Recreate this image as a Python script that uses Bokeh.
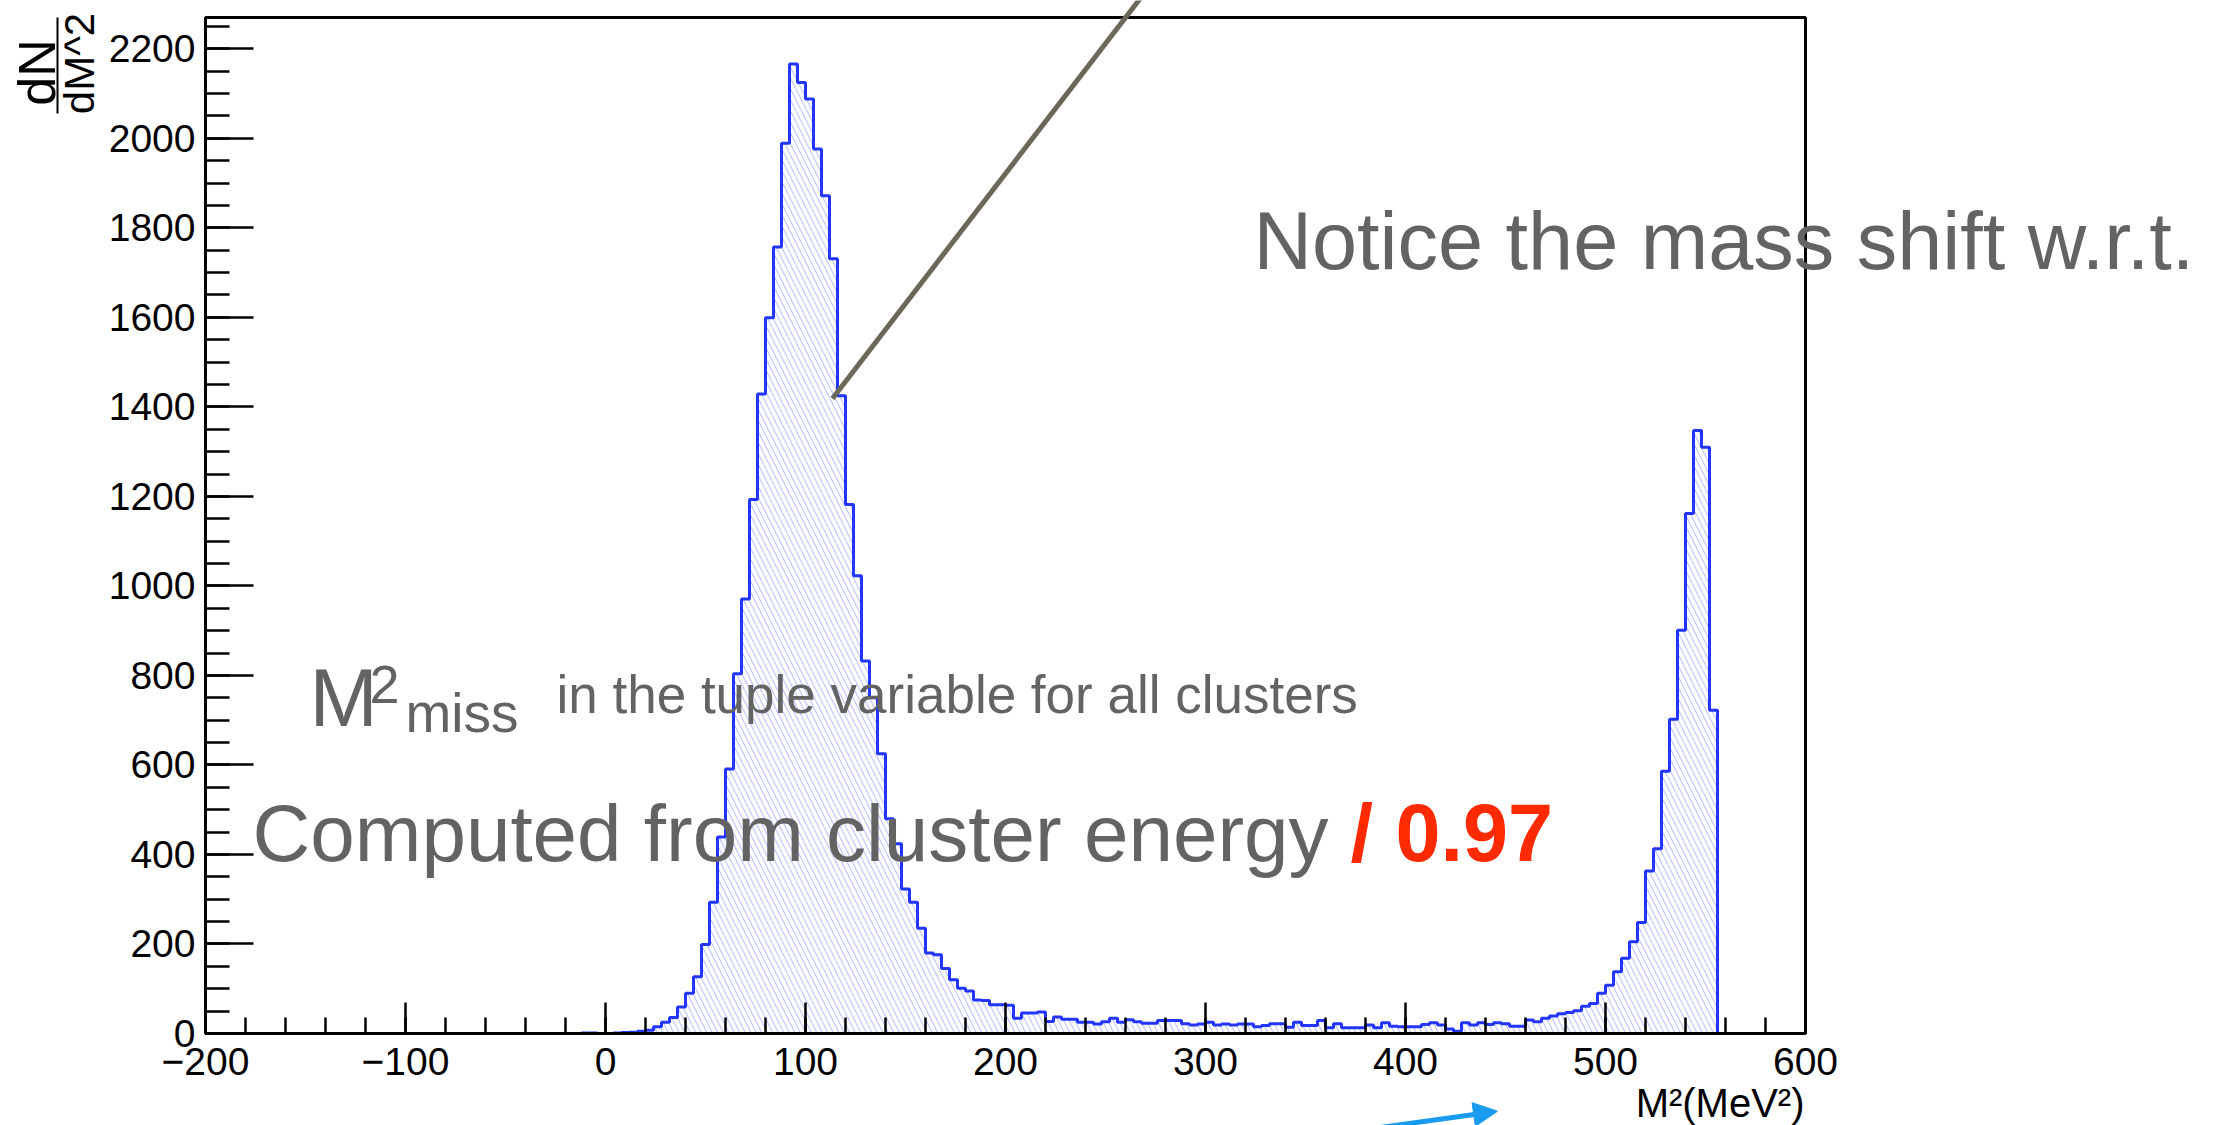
import numpy as np
from bokeh.plotting import figure
from bokeh.models import Range1d, FixedTicker, Label, Arrow, NormalHead, BoxAnnotation
from bokeh.embed import file_html
from bokeh.resources import INLINE

# ---------------------------------------------------------------- data
# Missing-mass-squared histogram, 4 MeV^2 bins starting at -12 MeV^2
BIN_START = -12
BIN_WIDTH = 4
counts = [
    1, 1, 0, 0, 1, 2, 3, 5, 7, 15,                # -12 .. 28
    25, 36, 59, 90, 127, 199, 293, 439, 591, 804,  # 28 .. 68
    971, 1193, 1429, 1599, 1757, 1989, 2166, 2125, 2088, 1976,  # 68 .. 108
    1872, 1731, 1425, 1182, 1023, 832, 750, 625, 480, 424,      # 108 .. 148
    323, 293, 235, 180, 176, 145, 120, 101, 95, 75,             # 148 .. 188
    74, 64, 64, 63, 34, 46, 46, 48, 27, 37,                     # 188 .. 228
    32, 32, 25, 25, 21, 26, 34, 25, 31, 26,                     # 228 .. 268
    23, 23, 29, 29, 29, 22, 19, 21, 25, 19,                     # 268 .. 308
    21, 19, 21, 21, 15, 18, 22, 22, 14, 25,                     # 308 .. 348
    18, 18, 29, 13, 22, 13, 13, 13, 19, 13,                     # 348 .. 388
    24, 16, 15, 15, 15, 20, 24, 19, 10, 5,                      # 388 .. 428
    24, 19, 24, 20, 24, 22, 16, 16, 30, 26,                     # 428 .. 468
    34, 39, 44, 47, 51, 61, 67, 90, 108, 138,                   # 468 .. 508
    168, 205, 248, 363, 413, 586, 702, 901, 1162, 1347,         # 508 .. 548
    1310, 722,                                                  # 548 .. 556
]

x_major = [-200, -100, 0, 100, 200, 300, 400, 500, 600]
x_minor = list(range(-200, 601, 20))
y_major = list(range(0, 2201, 200))
y_minor = list(range(0, 2251, 50))
x_label_text = {-200: "\u2212200", -100: "\u2212100"}

X_MIN, X_MAX = -200, 600
Y_MIN, Y_MAX = 0, 2270

# ---------------------------------------------------------------- geometry
W, H = 2221, 1125
FRAME_L, FRAME_R, FRAME_T, FRAME_B = 205, 1805, 17, 1033
SX = (FRAME_R - FRAME_L) / (X_MAX - X_MIN)
SY = (FRAME_B - FRAME_T) / (Y_MAX - Y_MIN)


def dx(px):
    """canvas pixel column -> data x"""
    return X_MIN + (px - FRAME_L) / SX


def dy(py):
    """canvas pixel row -> data y"""
    return (FRAME_B - py) / SY


def base_y(py, size):
    """data y for a text whose glyph baseline should sit on pixel row py"""
    return dy(py - 0.36 * size)


FONT = "Liberation Sans"
GREY = "#636363"
HIST_BLUE = "#2236ff"

p = figure(
    width=W, height=H, title=None, toolbar_location=None, output_backend="svg",
    x_range=Range1d(dx(0), dx(W)), y_range=Range1d(dy(H), dy(0)),
    min_border=0, min_border_left=0, min_border_right=0,
    min_border_top=0, min_border_bottom=0,
)
p.outline_line_color = None
p.grid.visible = False
p.background_fill_color = "white"
p.border_fill_color = "white"

# ---------------------------------------------------------------- histogram
edges = BIN_START + BIN_WIDTH * np.arange(len(counts) + 1)
area_x = np.repeat(edges, 2)[1:-1]
area_y = np.repeat(np.asarray(counts, dtype=float), 2)
p.varea(x=area_x, y1=np.zeros_like(area_y), y2=area_y,
        fill_color=None, fill_alpha=0,
        hatch_pattern="left_diagonal_line", hatch_color="#8f9dff",
        hatch_alpha=0.6, hatch_weight=1.1, hatch_scale=11)

step_x = [X_MIN] + list(edges) + [X_MAX]
step_y = [0] + list(counts) + [0, 0]
p.step(step_x, step_y, mode="after", line_color=HIST_BLUE, line_width=3)

# ---------------------------------------------------------------- frame box
p.add_layout(BoxAnnotation(left=X_MIN, right=X_MAX, bottom=Y_MIN, top=Y_MAX,
                           fill_color=None, fill_alpha=0,
                           line_color="black", line_alpha=1.0, line_width=3))

# ---------------------------------------------------------------- axes
xa = p.xaxis[0]
xa.fixed_location = 0
xa.bounds = (X_MIN, X_MAX)
xa.ticker = FixedTicker(ticks=x_major, minor_ticks=x_minor)
xa.major_label_overrides = x_label_text
xa.major_tick_in, xa.major_tick_out = 31, 0
xa.minor_tick_in, xa.minor_tick_out = 16, 0
xa.major_label_standoff = 14

ya = p.yaxis[0]
ya.fixed_location = X_MIN
ya.bounds = (Y_MIN, Y_MAX)
ya.ticker = FixedTicker(ticks=y_major, minor_ticks=y_minor)
ya.major_tick_in, ya.major_tick_out = 48, 0
ya.minor_tick_in, ya.minor_tick_out = 24, 0
ya.major_label_standoff = 10

for ax in (xa, ya):
    ax.axis_line_color = "black"
    ax.axis_line_width = 3
    ax.major_tick_line_color = "black"
    ax.minor_tick_line_color = "black"
    ax.major_tick_line_width = 2.5
    ax.minor_tick_line_width = 2.5
    ax.major_label_text_font = FONT
    ax.major_label_text_font_size = "39px"
    ax.major_label_text_color = "black"

# axis titles
p.add_layout(Label(x=dx(1804), y=base_y(1117, 40), text="M\u00b2(MeV\u00b2)", text_align="right",
                   text_baseline="alphabetic", text_font=FONT,
                   text_font_size="40px", text_color="black"))
p.add_layout(Label(x=dx(36), y=dy(72), text="dN", angle=np.pi / 2,
                   text_align="center", text_baseline="middle", text_font=FONT,
                   text_font_size="52px", text_color="black"))
p.add_layout(Label(x=dx(79), y=dy(63), text="dM^2", angle=np.pi / 2,
                   text_align="center", text_baseline="middle", text_font=FONT,
                   text_font_size="42px", text_color="black"))
p.add_layout(Arrow(end=None, x_start=dx(57), y_start=dy(17), x_end=dx(57), y_end=dy(113),
                   line_color="black", line_width=2))

# ---------------------------------------------------------------- notes
p.add_layout(Arrow(end=None, x_start=dx(832), y_start=dy(398), x_end=dx(1142), y_end=dy(-5),
                   line_color="#6b6759", line_width=5))
p.add_layout(Label(x=dx(1253), y=base_y(270, 81), text="Notice the mass shift w.r.t.",
                   text_font=FONT, text_font_size="81px", text_color=GREY,
                   text_baseline="alphabetic"))

p.add_layout(Label(x=dx(309), y=base_y(727, 82), text="M", text_font=FONT,
                   text_font_size="82px", text_color=GREY, text_baseline="alphabetic"))
p.add_layout(Label(x=dx(369), y=base_y(703, 54), text="2", text_font=FONT,
                   text_font_size="54px", text_color=GREY, text_baseline="alphabetic"))
p.add_layout(Label(x=dx(405), y=base_y(732, 55), text="miss", text_font=FONT,
                   text_font_size="55px", text_color=GREY, text_baseline="alphabetic"))
p.add_layout(Label(x=dx(556), y=base_y(713, 53), text="in the tuple variable for all clusters",
                   text_font=FONT, text_font_size="53px", text_color=GREY,
                   text_baseline="alphabetic"))

p.add_layout(Label(x=dx(252), y=base_y(862, 80), text="Computed from cluster energy",
                   text_font=FONT, text_font_size="80px", text_color=GREY,
                   text_baseline="alphabetic"))
p.add_layout(Label(x=dx(1350), y=base_y(862, 81), text="/ 0.97", text_font=FONT,
                   text_font_style="bold", text_font_size="81px", text_color="#ff2a00",
                   text_baseline="alphabetic"))

p.add_layout(Arrow(end=NormalHead(size=24, fill_color="#199cf0", line_color="#199cf0"),
                   x_start=dx(1380), y_start=dy(1127), x_end=dx(1497), y_end=dy(1110.7),
                   line_color="#199cf0", line_width=5))

open("out.html", "w").write(file_html(p, INLINE))
